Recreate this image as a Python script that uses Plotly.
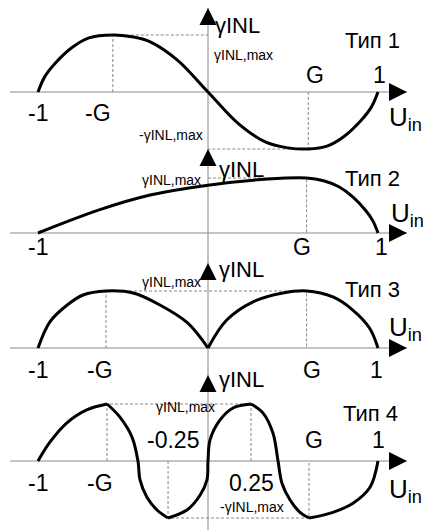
import plotly.graph_objects as go

# Curve points (x in units of U_in, y in units of gamma_INL,max)
u1 = [-1.0, -0.96, -0.9, -0.8, -0.7, -0.56, -0.45, -0.34, -0.18, 0.0,
      0.18, 0.34, 0.47, 0.59, 0.7, 0.8, 0.9, 0.96, 1.0]
g1 = [0.0, 0.27, 0.5, 0.78, 0.95, 1.0, 0.97, 0.88, 0.56, 0.0,
      -0.56, -0.88, -0.98, -1.0, -0.95, -0.78, -0.5, -0.27, 0.0]

u2 = [-1.0, -0.64, -0.34, 0.0, 0.35, 0.58, 0.68, 0.77, 0.85, 0.93, 0.97, 1.0]
g2 = [0.0, 0.42, 0.69, 0.87, 0.98, 1.0, 0.95, 0.84, 0.66, 0.4, 0.22, 0.0]

u3a = [-1.0, -0.93, -0.83, -0.735, -0.6, -0.44, -0.28, -0.12, 0.0]
g3a = [0.0, 0.46, 0.75, 0.93, 1.0, 0.965, 0.75, 0.44, 0.0]
u3b = [0.0, 0.11, 0.265, 0.44, 0.58, 0.735, 0.85, 0.95, 1.0]
g3b = [0.0, 0.49, 0.81, 0.965, 1.0, 0.895, 0.67, 0.35, 0.0]

u4a = [-1.0, -0.93, -0.83, -0.71, -0.594]
g4a = [0.0, 0.33, 0.67, 0.9, 1.0]
u4b = [-0.594, -0.518, -0.447, -0.412, -0.4, -0.36, -0.3, -0.235]
g4b = [1.0, 0.77, 0.42, 0.0, -0.33, -0.63, -0.86, -1.0]
u4c = [-0.235, -0.124, -0.047, -0.006, 0.0, 0.012, 0.071, 0.147, 0.253]
g4c = [-1.0, -0.86, -0.6, -0.33, 0.0, 0.37, 0.72, 0.93, 1.0]
u4d = [0.253, 0.324, 0.382, 0.412, 0.435, 0.482, 0.541, 0.594]
g4d = [1.0, 0.84, 0.49, 0.0, -0.39, -0.68, -0.9, -1.0]
u4e = [0.594, 0.735, 0.853, 0.953, 1.0]
g4e = [-1.0, -0.9, -0.74, -0.46, 0.0]

# dashed guide lines (x, y)
guides1 = [([-0.56, -0.56, 0.0], [0.0, 1.0, 1.0]), ([0.59, 0.59, 0.0], [0.0, -1.0, -1.0])]
guides2 = [([0.0, 0.58, 0.58], [1.0, 1.0, 0.0])]
guides3 = [([-0.6, -0.6, 0.58, 0.58], [0.0, 1.0, 1.0, 0.0])]
guides4 = [([-0.594, -0.594, 0.253, 0.253], [0.0, 1.0, 1.0, 0.0]),
           ([-0.235, -0.235, 0.594, 0.594], [0.0, -1.0, -1.0, 0.0])]

# tick-like labels: (text, x, y)
labels1 = [("-1", -1.0, -0.37), ("-G", -0.65, -0.37), ("G", 0.63, 0.3), ("1", 1.01, 0.3)]
labels2 = [("-1", -1.0, -0.26), ("G", 0.553, -0.26), ("1", 1.02, -0.26)]
labels3 = [("-1", -1.0, -0.39), ("-G", -0.635, -0.39), ("G", 0.61, -0.39), ("1", 0.994, -0.39)]
labels4 = [("-1", -1.0, -0.39), ("-G", -0.635, -0.39), ("-0.25", -0.206, 0.37),
           ("0.25", 0.253, -0.39), ("G", 0.624, 0.37), ("1", 1.0, 0.37)]
types = ["Тип 1", "Тип 2", "Тип 3", "Тип 4"]

# panel geometry: baseline pixel row and pixels per unit of gamma
H, W = 530, 423
base = [92, 233, 348, 461]
scale = [57, 55, 57, 57]
x0, xs = 208, 170

fig = go.Figure()
yrefs = ["y", "y2", "y3", "y4"]

def curve(u, g, k):
    fig.add_trace(go.Scatter(x=u, y=g, mode="lines", yaxis=yrefs[k],
                             line=dict(color="black", width=3, shape="spline", smoothing=1.0),
                             hoverinfo="skip"))

def guide(u, g, k):
    fig.add_trace(go.Scatter(x=u, y=g, mode="lines", yaxis=yrefs[k],
                             line=dict(color="#888888", width=1, dash="3px,2px"),
                             hoverinfo="skip"))

for u, g in guides1:
    guide(u, g, 0)
for u, g in guides2:
    guide(u, g, 1)
for u, g in guides3:
    guide(u, g, 2)
for u, g in guides4:
    guide(u, g, 3)

curve(u1, g1, 0)
curve(u2, g2, 1)
curve(u3a, g3a, 2)
curve(u3b, g3b, 2)
for u, g in [(u4a, g4a), (u4b, g4b), (u4c, g4c), (u4d, g4d), (u4e, g4e)]:
    curve(u, g, 3)

FONT = "Arial, Liberation Sans, sans-serif"
ann = []
shapes = []
xmin, xmax = (10 - x0) / xs, (407 - x0) / xs
y_tip = [8, 149, 263, 375]
y_bot = [149, 263, 375, 530]

for k in range(4):
    yr = yrefs[k]
    b, s = base[k], scale[k]
    # x axis
    shapes.append(dict(type="line", xref="x", yref=yr, x0=xmin, x1=xmax, y0=0, y1=0,
                       line=dict(color="#888888", width=1), layer="below"))
    ann.append(dict(x=xmax, y=0, xref="x", yref=yr, ax=-12, ay=0, text="", showarrow=True,
                    arrowhead=2, arrowsize=3.6, arrowwidth=1, arrowcolor="black", standoff=0))
    # y axis
    ytop = (b - y_tip[k]) / s
    ybot = (b - y_bot[k]) / s
    shapes.append(dict(type="line", xref="x", yref=yr, x0=0, x1=0, y0=ybot, y1=ytop,
                       line=dict(color="#888888", width=1), layer="below"))
    ann.append(dict(x=0, y=ytop, xref="x", yref=yr, ax=0, ay=11, text="", showarrow=True,
                    arrowhead=2, arrowsize=3.4, arrowwidth=1, arrowcolor="black", standoff=0))

def text(t, x, y, k, size, xanchor="center"):
    ann.append(dict(x=x, y=y, xref="x", yref=yrefs[k], text=t, showarrow=False,
                    xanchor=xanchor, yanchor="middle",
                    font=dict(family=FONT, size=size, color="black")))

for k, labs in enumerate([labels1, labels2, labels3, labels4]):
    for t, x, y in labs:
        text(t, x, y, k, 23)

type_pos = [(0.965, 0.9), (0.965, 1.0), (0.965, 1.02), (0.953, 0.84)]
uin_pos = [(1.055, -0.46), (1.065, 0.33), (1.055, 0.35), (1.055, -0.51)]
gam_pos = [(0.03, 1.17), (0.05, 1.16), (0.05, 1.37), (0.05, 1.43)]
for k in range(4):
    text(types[k], type_pos[k][0], type_pos[k][1], k, 22)
    text("U<sub>in</sub>", uin_pos[k][0], uin_pos[k][1], k, 26, "left")
    text("γINL", gam_pos[k][0], gam_pos[k][1], k, 22, "left")

text("γINL,max", 0.024, 0.65, 0, 14, "left")
text("-γINL,max", -0.02, -0.75, 0, 14, "right")
text("γINL,max", -0.03, 0.96, 1, 14, "right")
text("γINL,max", -0.03, 1.16, 2, 14, "right")
text("γINL,max", -0.13, 0.95, 3, 14)
text("-γINL,max", 0.06, -0.81, 3, 14, "left")

layout = dict(
    width=W, height=H, autosize=False,
    margin=dict(l=0, r=0, t=0, b=0),
    paper_bgcolor="white", plot_bgcolor="white",
    showlegend=False,
    xaxis=dict(range=[-x0 / xs, (W - x0) / xs], visible=False, fixedrange=True),
    annotations=ann, shapes=shapes,
)
for k in range(4):
    name = "yaxis" if k == 0 else f"yaxis{k + 1}"
    ax = dict(range=[-(H - base[k]) / scale[k], base[k] / scale[k]], visible=False,
              fixedrange=True, domain=[0, 1])
    if k > 0:
        ax["overlaying"] = "y"
    layout[name] = ax
fig.update_layout(**layout)

fig.write_html("out.html", config={"displayModeBar": False},
               post_script="document.body.style.margin='0';")
